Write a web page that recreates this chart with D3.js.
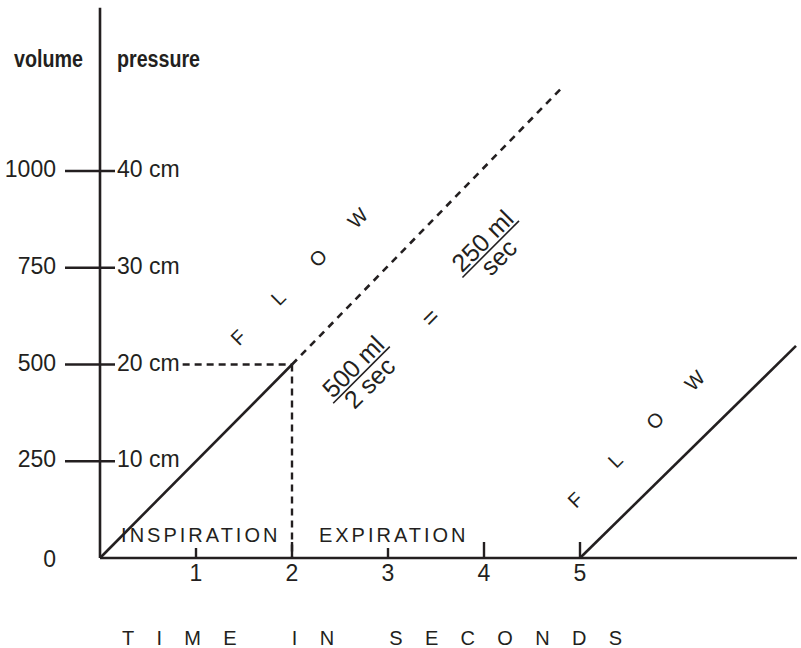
<!DOCTYPE html>
<html>
<head>
<meta charset="utf-8">
<script src="https://cdn.jsdelivr.net/npm/d3@7"></script>
<style>
  html, body { margin: 0; padding: 0; background: #fff; }
  svg { display: block; }
  text { font-family: "Liberation Sans", Arial, Helvetica, sans-serif; fill: #231f20; }
</style>
</head>
<body>
<svg id="chart" width="801" height="648"></svg>
<script>
// ---- data ----
const volumeTicks = [0, 250, 500, 750, 1000];
const volumeLabels = ["0", "250", "500", "750", "1000"];
const pressureLabels = ["", "10 cm", "20 cm", "30 cm", "40 cm"];
const timeTicks = [1, 2, 3, 4, 5];
const timeLabels = ["1", "2", "3", "4", "5"];
const inspirationLine = [[0, 0], [2, 500]];
const extrapolatedLine = [[2, 500], [4.81, 1215]];
const expirationLine = [[5, 0], [7.25, 548]];
const flowWord = ["F", "L", "O", "W"];
const flowAnchors = [[1.44, 570], [4.95, 150]];
const phaseLabels = ["INSPIRATION", "EXPIRATION"];
const phaseStarts = [0.22, 2.28];
const fractions = [
  { at: [2.724, 473], num: "500 ml", den: "2 sec" },
  { at: [4.07, 798], num: "250 ml", den: "sec" }
];
const equalsAt = [3.44, 622];
const axisTitle = "TIME IN SECONDS";

// ---- scales ----
const INK = "#231f20";
const x = d3.scaleLinear().domain([0, 5]).range([100, 580]);
const y = d3.scaleLinear().domain([0, 1000]).range([558, 171]);
const xMax = 7.26, yMax = 1422;

const svg = d3.select("#chart");
const g = svg.append("g");

// axes
g.append("line").attr("x1", x(0)).attr("x2", x(0)).attr("y1", y(yMax)).attr("y2", y(0))
  .attr("stroke", INK).attr("stroke-width", 2.6);
g.append("line").attr("x1", x(0)).attr("x2", x(xMax)).attr("y1", y(0)).attr("y2", y(0))
  .attr("stroke", INK).attr("stroke-width", 2.6);

// y ticks (crossing the axis)
const yt = g.selectAll(".yt").data(volumeTicks.filter(v => v > 0)).join("line")
  .attr("x1", x(0) - 35).attr("x2", x(0) + 15)
  .attr("y1", d => y(d)).attr("y2", d => y(d))
  .attr("stroke", INK).attr("stroke-width", 2.4);

g.selectAll(".vl").data(volumeTicks).join("text")
  .attr("x", 56).attr("y", d => y(d) + (d === 0 ? 9 : 6))
  .attr("text-anchor", "end").attr("font-size", 23)
  .text((d, i) => volumeLabels[i]);

const pl = g.selectAll(".pl").data(volumeTicks).join("text")
  .attr("x", x(0) + 17).attr("y", d => y(d) + 6)
  .attr("font-size", 23)
  .text((d, i) => pressureLabels[i]);

// axis headers
g.append("text").attr("x", 14).attr("y", 67).attr("font-size", 23).attr("font-weight", "bold")
  .attr("textLength", 69).attr("lengthAdjust", "spacingAndGlyphs").text("volume");
g.append("text").attr("x", 117).attr("y", 67).attr("font-size", 23).attr("font-weight", "bold")
  .attr("textLength", 83).attr("lengthAdjust", "spacingAndGlyphs").text("pressure");

// x ticks
g.selectAll(".xt").data(timeTicks).join("line")
  .attr("x1", d => x(d)).attr("x2", d => x(d))
  .attr("y1", y(0)).attr("y2", d => y(0) - ((d === 1 || d === 3) ? 10 : 16))
  .attr("stroke", INK).attr("stroke-width", 2.4);
g.selectAll(".xl").data(timeTicks).join("text")
  .attr("x", d => x(d)).attr("y", y(0) + 23)
  .attr("text-anchor", "middle").attr("font-size", 23)
  .text((d, i) => timeLabels[i]);

// phase labels
g.selectAll(".ph").data(phaseLabels).join("text")
  .attr("x", (d, i) => x(phaseStarts[i])).attr("y", y(0) - 16.5)
  .attr("font-size", 20).attr("letter-spacing", 3)
  .text(d => d);

// x axis title
g.append("text").attr("x", 122).attr("y", 645).attr("font-size", 20)
  .attr("letter-spacing", 22.3).attr("word-spacing", 5).text(axisTitle);

// lines
const line = d3.line().x(d => x(d[0])).y(d => y(d[1]));
g.append("path").datum(inspirationLine).attr("d", line)
  .attr("fill", "none").attr("stroke", INK).attr("stroke-width", 2.6);
g.append("path").datum(extrapolatedLine).attr("d", line)
  .attr("fill", "none").attr("stroke", INK).attr("stroke-width", 2.6).attr("stroke-dasharray", "7,6");
g.append("path").datum(expirationLine).attr("d", line)
  .attr("fill", "none").attr("stroke", INK).attr("stroke-width", 2.6);

// dashed guides to (2, 500)
const label20 = pl.filter(d => d === 500).node();
const hStart = x(0) + 17 + label20.getComputedTextLength() + 3;
g.append("line").attr("x1", hStart).attr("x2", x(2)).attr("y1", y(500)).attr("y2", y(500))
  .attr("stroke", INK).attr("stroke-width", 2.4).attr("stroke-dasharray", "7,5");
g.append("line").attr("x1", x(2)).attr("x2", x(2)).attr("y1", y(500)).attr("y2", y(0))
  .attr("stroke", INK).attr("stroke-width", 2.4).attr("stroke-dasharray", "7,5");

// FLOW letters along each line
const angle = -45;
flowAnchors.forEach(a => {
  const cx = x(a[0]), cy = y(a[1]);
  flowWord.forEach((ch, i) => {
    g.append("text")
      .attr("transform", `translate(${cx + i * 39.8},${cy - i * 39.8}) rotate(${angle})`)
      .attr("text-anchor", "middle").attr("dy", "0.36em")
      .attr("font-size", 20).text(ch);
  });
});

// fractions
fractions.forEach(f => {
  const fg = g.append("g").attr("transform", `translate(${x(f.at[0])},${y(f.at[1])}) rotate(${angle})`);
  fg.append("line").attr("x1", -40).attr("x2", 40).attr("y1", 0).attr("y2", 0)
    .attr("stroke", INK).attr("stroke-width", 1.6);
  fg.append("text").attr("x", 0).attr("y", -3).attr("text-anchor", "middle")
    .attr("font-size", 25).text(f.num);
  fg.append("text").attr("x", 0).attr("y", 20).attr("text-anchor", "middle")
    .attr("font-size", 25).text(f.den);
});
g.append("text")
  .attr("transform", `translate(${x(equalsAt[0])},${y(equalsAt[1])}) rotate(${angle})`)
  .attr("text-anchor", "middle").attr("dy", "0.35em").attr("font-size", 25).text("=");
</script>
</body>
</html>
